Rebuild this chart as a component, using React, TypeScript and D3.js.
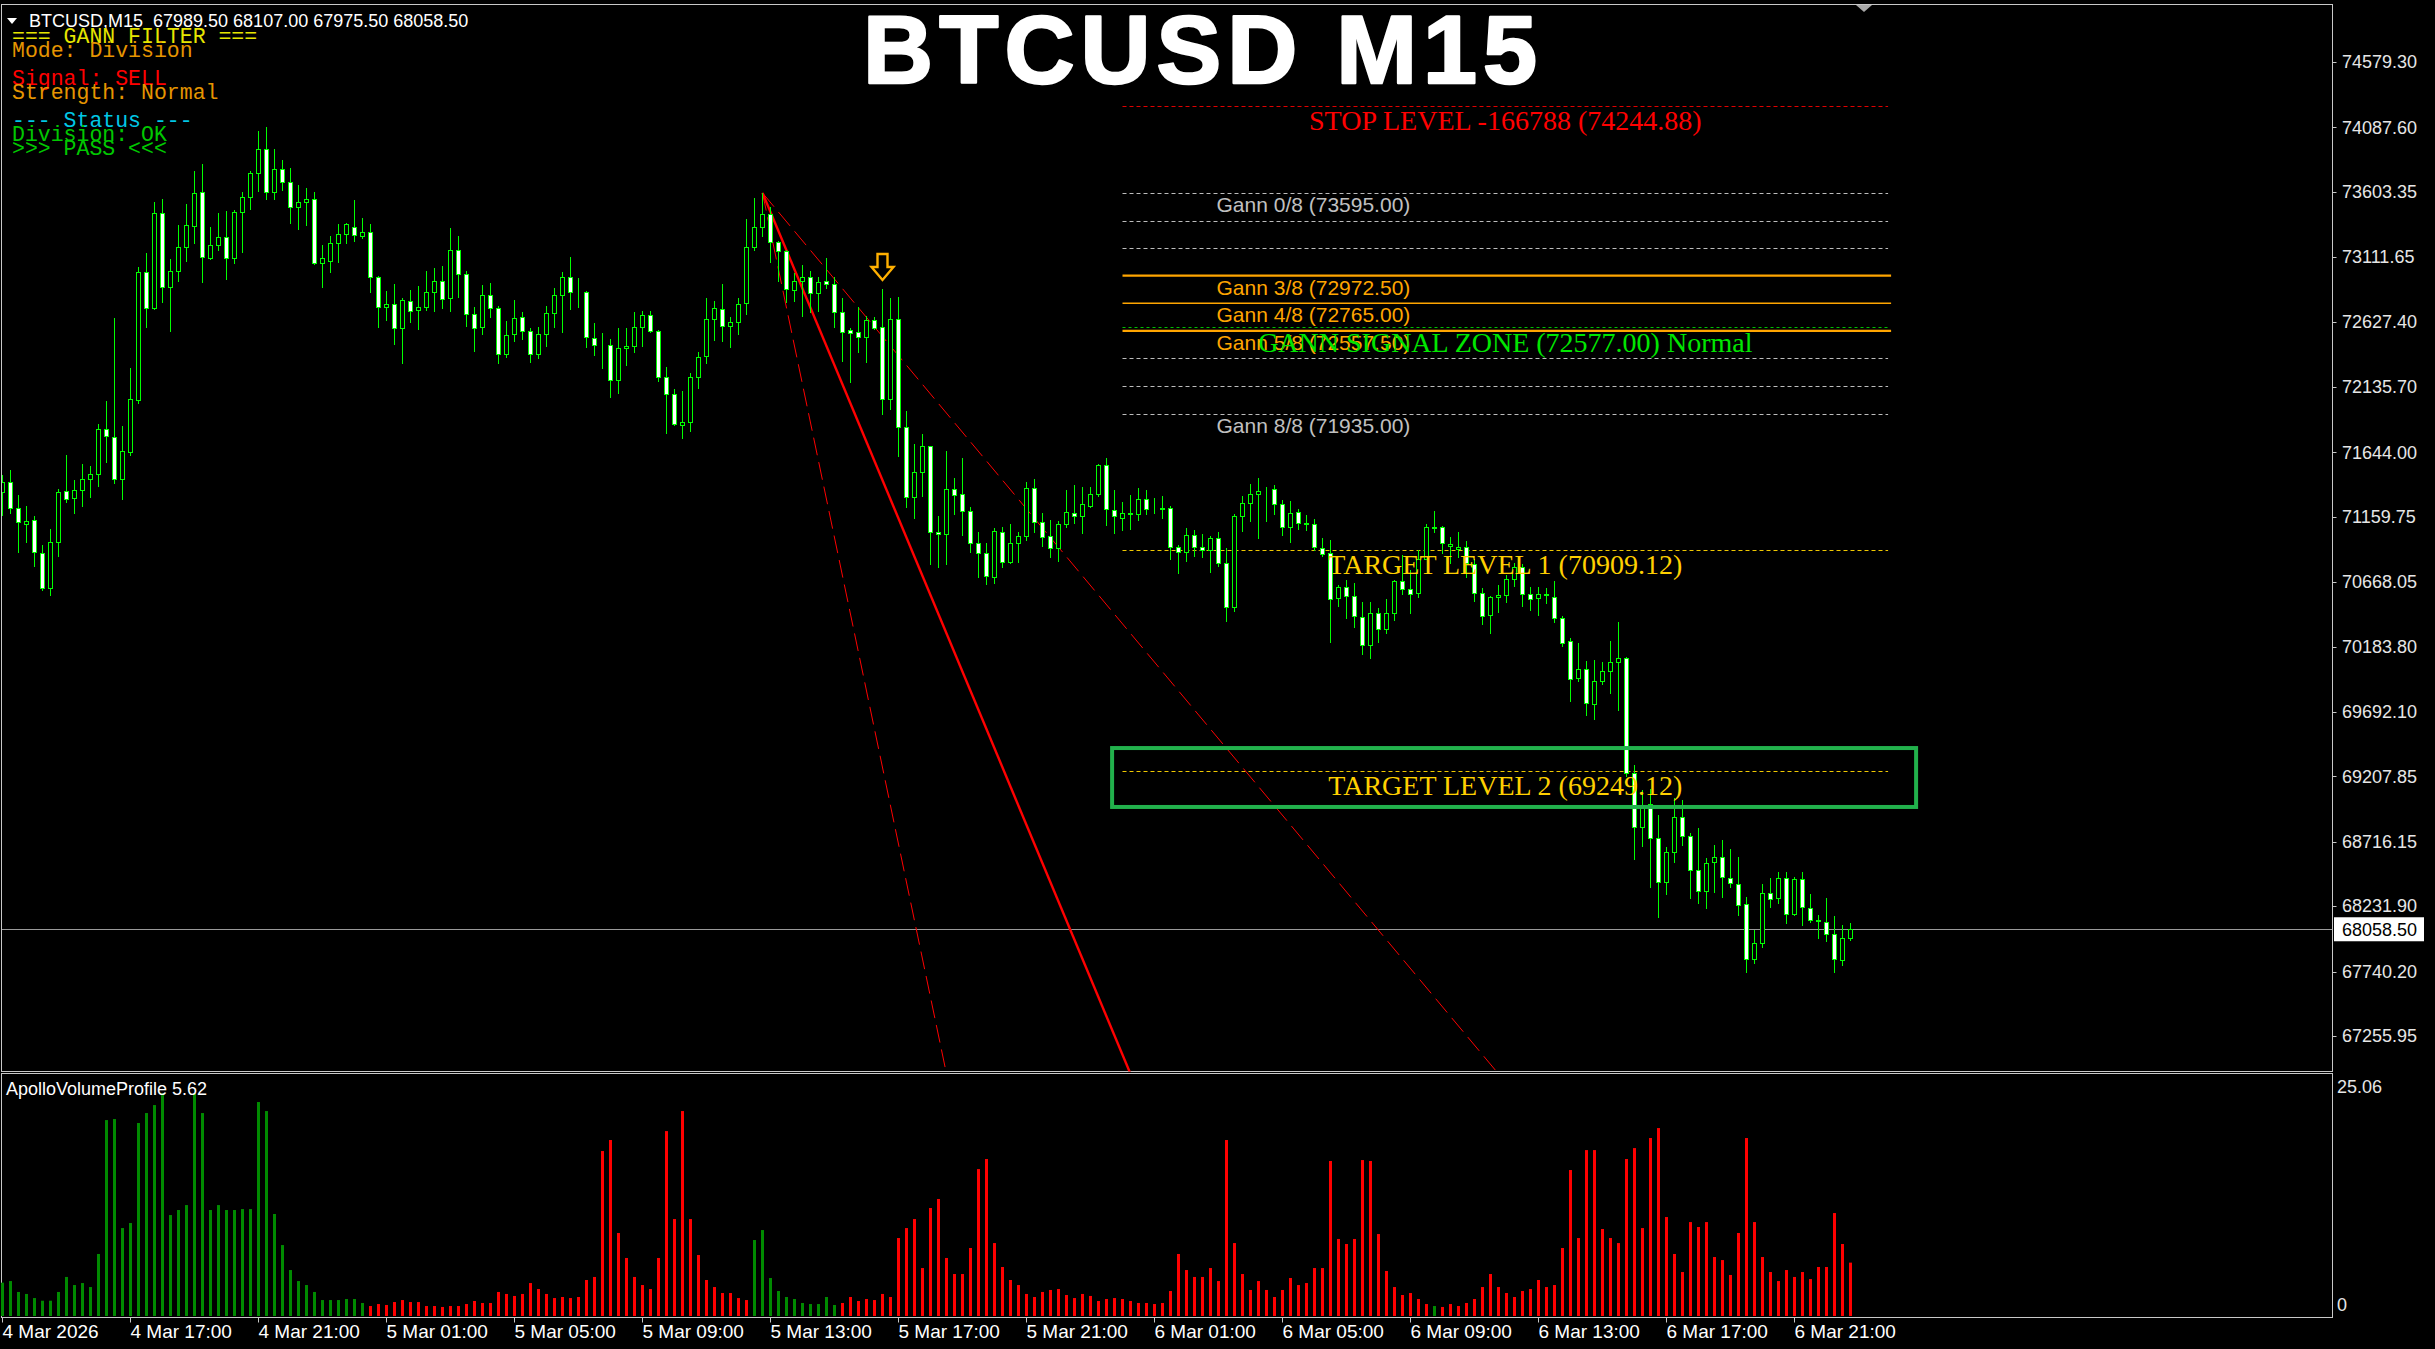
import React from "react";
import * as d3 from "d3";

const W = 2435;
const H = 1349;

// ---- BTCUSD M15 candles (bar 0 = 4 Mar 2026 13:00) ----
const opens = [71349,71424,71228,71103,71135,70885,70627,70968,71354,71298,
71361,71441,71479,71817,71757,71441,71649,72038,73003,72727,
73441,72890,73010,73186,73346,73599,73103,73201,73266,73103,
73449,73562,73742,73922,73599,73772,73674,73486,73529,73551,
73070,73085,73216,73283,73336,73271,73303,72960,72735,72757,
72577,72785,72714,72735,72847,72935,72802,73163,72983,72682,
72584,72825,72727,72384,72532,72659,72559,72384,72532,72695,
72825,72960,72850,72850,72502,72449,72449,72186,72426,72446,
72584,72675,72559,72213,72081,71850,71870,72208,72371,72644,
72720,72594,72627,72765,73191,73341,73436,73223,73158,72865,
72933,72965,72840,72933,72908,72697,72562,72547,72509,72637,
72584,72048,72649,71837,71306,71494,71695,71045,71030,71366,
71328,71203,70960,70885,70704,71043,70817,70965,71015,71374,
71118,71013,70923,71103,71186,71168,71241,71328,71549,71211,
71148,71186,71178,71291,71216,71216,71223,70930,70892,71020,
70930,70910,70998,70810,70479,71166,71261,71328,71351,71366,
71253,71080,71193,71110,71103,70923,70885,70547,70629,70564,
70409,70196,70434,70318,70434,70679,70617,70584,70840,71085,
71080,70938,70920,70930,70805,70589,70419,70554,70569,70690,
70785,70577,70547,70577,70559,70396,70228,69945,70018,69750,
69923,69998,70065,70096,69231,68825,69000,68742,68411,68637,
68905,68760,68504,68349,68567,68599,68441,68396,68246,67832,
67958,68329,68291,68441,68171,68434,68216,68128,68115,68020,
67827,67989.5];

const highs = [71474,71511,71323,71241,71168,70948,71065,71369,71624,71436,
71557,71544,71857,72030,72652,71842,72276,73040,73141,73524,
73547,73095,73354,73509,73760,73812,73339,73444,73459,73466,
73604,73762,74060,74093,73925,73842,73782,73652,73629,73604,
73203,73271,73361,73371,73542,73404,73361,72973,72857,72910,
72807,72865,72897,73008,73033,73048,73328,73271,73010,72740,
72903,72915,72745,72632,72790,72702,72577,72589,72745,72878,
73003,73111,72958,72857,72614,72539,72497,72577,72577,72697,
72710,72707,72562,72286,72121,72106,72238,72401,72807,72785,
72908,72664,72807,73396,73554,73595,73492,73233,73166,72990,
73050,73010,72965,73106,72960,72805,72577,72740,72672,72664,
72873,72805,72810,71958,71705,71780,71695,71166,71654,71449,
71599,71231,71043,70960,71078,71080,71103,71045,71419,71441,
71186,71136,71128,71361,71399,71381,71386,71557,71602,71361,
71273,71323,71374,71361,71299,71316,71241,70948,71073,71060,
71028,71015,71043,70923,71181,71316,71406,71449,71381,71399,
71286,71281,71216,71173,71141,70998,70985,70647,70684,70659,
70522,70516,70471,70542,70684,70872,70760,70910,71106,71203,
71090,71010,71043,70978,70840,70622,70567,70647,70722,70810,
70802,70634,70634,70622,70677,70414,70246,70213,70075,70083,
70068,70226,70366,70108,69293,69106,69110,68918,68679,69048,
69030,68785,68818,68597,68692,68730,68662,68599,68298,68053,
68396,68441,68491,68486,68454,68491,68323,68166,68296,68158,
68090,68107];

const lows = [71173,71191,70897,70973,70792,70609,70572,70867,71268,71191,
71243,71311,71394,71574,71411,71291,71624,72013,72584,72719,
72777,72559,72935,73085,73221,72927,73095,73168,72945,73065,
73153,73471,73612,73549,73547,73617,73366,73326,73354,73060,
72885,73003,73078,73216,73236,73253,72852,72589,72639,72459,
72313,72627,72572,72714,72709,72727,72709,72810,72597,72409,
72537,72664,72314,72359,72484,72494,72326,72351,72444,72589,
72552,72720,72740,72439,72376,72276,72063,72093,72299,72401,
72446,72552,72183,71787,71850,71750,71805,72131,72319,72489,
72484,72434,72534,72685,73166,73274,73078,72935,72772,72785,
72672,72702,72710,72878,72584,72334,72176,72401,72326,72569,
71935,71973,71619,71231,71148,71319,70802,70785,70802,71178,
71023,70897,70709,70652,70659,70780,70815,70817,70985,71048,
70940,70860,70827,71080,71116,71035,71231,71316,71098,71040,
71060,71068,71136,71178,71186,71148,70840,70740,70827,70865,
70855,70747,70790,70376,70451,71053,71131,71003,71131,71178,
71023,70973,71068,71060,70910,70865,70216,70491,70396,70334,
70128,70101,70221,70289,70384,70579,70439,70554,70840,71048,
70890,70815,70855,70705,70529,70354,70288,70446,70522,70639,
70492,70459,70421,70514,70371,70191,69777,69925,69669,69642,
69902,69837,69707,69213,68584,68687,68374,68153,68321,68567,
68692,68291,68258,68216,68341,68303,68379,68166,67740,67807,
67928,68228,68253,68108,68166,68090,68110,67990,67973,67740,
67790,67975.5];

const closes = [71424,71228,71118,71125,70892,70622,70973,71344,71293,71361,
71444,71479,71817,71767,71441,71654,72043,73003,72727,73441,
72885,73010,73186,73351,73592,73110,73201,73266,73108,73449,
73562,73742,73922,73599,73772,73674,73486,73529,73551,73065,
73103,73216,73283,73359,73278,73303,72960,72735,72757,72577,
72790,72704,72735,72852,72935,72797,73163,72985,72684,72577,
72825,72727,72384,72524,72652,72554,72384,72532,72690,72825,
72960,72850,72850,72512,72449,72449,72186,72426,72446,72584,
72675,72559,72213,72081,71857,71870,72208,72364,72644,72727,
72594,72622,72757,73191,73341,73436,73223,73158,72870,72933,
72965,72840,72923,72910,72697,72552,72542,72512,72637,72577,
72043,72644,71832,71306,71494,71695,71045,71030,71366,71323,
71203,70960,70885,70714,71050,70817,70960,71013,71374,71118,
71010,70923,71103,71193,71168,71253,71328,71549,71216,71166,
71186,71178,71291,71216,71216,71223,70930,70892,71020,70930,
70910,70998,70810,70479,71166,71261,71328,71351,71353,71253,
71080,71186,71110,71105,70930,70877,70539,70629,70564,70414,
70196,70434,70316,70434,70680,70617,70577,70840,71085,71073,
70960,70953,70935,70810,70584,70414,70554,70569,70690,70785,
70579,70539,70577,70574,70396,70213,69938,70013,69757,69923,
69998,70065,70096,69231,68825,68968,68742,68411,68637,68905,
68760,68504,68349,68554,68599,68449,68404,68241,67832,67953,
68329,68283,68441,68171,68434,68223,68128,68123,68020,67832,
67990,68058.5];

// ---- ApolloVolumeProfile histogram ----
const volumes = [3.51,3.68,2.53,2.32,1.89,1.61,1.61,2.53,4.11,3.26,
3.47,3.05,6.53,20.63,20.74,9.26,9.79,20.32,21.37,22.21,
23.44,10.63,11.16,11.68,23.44,21.37,11.16,11.68,11.16,11.16,
11.26,11.26,22.53,21.58,10.74,7.47,4.84,3.68,3.26,2.53,
1.68,1.68,1.68,1.79,1.79,1.37,1.05,1.26,1.16,1.47,
1.68,1.47,1.47,1.05,1.05,0.95,1.05,1.05,1.26,1.58,
1.37,1.37,2.53,2.32,2.11,2.32,3.47,2.84,2.32,1.89,
2.00,1.89,2.00,3.79,4.11,17.37,18.53,8.74,6.11,4.11,
3.26,2.84,6.11,19.47,10.21,21.58,10.21,6.42,3.79,3.05,
2.42,2.42,1.89,1.68,8.00,9.05,4.00,2.63,2.00,1.79,
1.37,1.26,1.26,2.00,1.16,1.37,2.00,1.58,1.79,1.68,
2.32,2.00,8.21,9.26,10.21,5.05,11.37,12.32,6.11,4.42,
4.42,7.16,15.47,16.53,7.68,5.16,3.79,3.26,2.32,2.00,
2.53,2.74,2.84,2.21,1.89,2.32,2.11,1.58,1.79,1.89,
1.79,1.58,1.37,1.37,1.26,1.37,2.63,6.53,4.84,4.11,
4.11,5.05,3.68,18.53,7.68,4.42,2.74,3.68,2.74,2.00,
2.74,4.00,3.26,3.47,5.05,5.05,16.32,8.11,7.58,8.11,
16.42,16.32,8.63,4.74,3.05,2.21,2.42,1.79,1.26,1.05,
0.95,1.26,1.05,1.37,1.79,3.05,4.42,3.05,2.42,2.00,
2.63,2.84,3.79,3.05,3.26,7.16,15.37,8.21,17.47,17.47,
9.16,8.21,7.68,16.53,17.68,9.26,18.74,19.79,10.42,6.53,
4.63,9.89,9.37,9.89,6.21,5.89,4.32,8.74,18.74,9.89,
6.21,4.63,3.68,4.84,4.11,4.63,3.89,5.16,5.16,10.84,
7.58,5.62];
// bar index ranges drawn as buying volume (green); the rest is selling (red)
const buyVolumeRanges = [[0, 45], [94, 104], [179, 179]];
const volumeMax = 25.06;

// ---- axes ----
const priceTicks = [74579.30, 74087.60, 73603.35, 73111.65, 72627.40, 72135.70, 71644.00,
  71159.75, 70668.05, 70183.80, 69692.10, 69207.85, 68716.15, 68231.90, 67740.20, 67255.95];
const timeTickBars = [0, 16, 32, 48, 64, 80, 96, 112, 128, 144, 160, 176, 192, 208, 224];
const timeTickLabels = ["4 Mar 2026", "4 Mar 17:00", "4 Mar 21:00", "5 Mar 01:00", "5 Mar 05:00",
  "5 Mar 09:00", "5 Mar 13:00", "5 Mar 17:00", "5 Mar 21:00", "6 Mar 01:00", "6 Mar 05:00",
  "6 Mar 09:00", "6 Mar 13:00", "6 Mar 17:00", "6 Mar 21:00"];

// ---- Gann filter levels ----
const gannPrices = [73595.0, 73387.5, 73180.0, 72972.5, 72765.0, 72557.5, 72350.0, 72142.5, 71935.0];
const gannNames = ["Gann 0/8", "", "", "Gann 3/8", "Gann 4/8", "Gann 5/8", "", "", "Gann 8/8"];
const gannKinds = ["dot", "dot", "dot", "solid", "solid", "solid", "dot", "dot", "dot"];
const stopLevel = 74244.88;
const stopPoints = -166788;
const signalZone = 72577.0;
const signalStrength = "Normal";
const target1 = 70909.12;
const target2 = 69249.12;
const target2Box = [69421, 68978];
const levelBars = [140, 235.7];
const boxBars = [138.7, 239.2];

// Gann fan from the swing high
const fanPivotBar = 95;
const fanPivotPrice = 73595;
const fanRates = [72, 144, 288]; // price per bar
const fanDashed = [true, false, true];
const sellArrowBar = 110;

const infoLines = [
  { text: "=== GANN FILTER ===", color: "#e6e600" },
  { text: "Mode: Division", color: "#e69500" },
  { text: "", color: "" },
  { text: "Signal: SELL", color: "#ff0000" },
  { text: "Strength: Normal", color: "#e69500" },
  { text: "", color: "" },
  { text: "--- Status ---", color: "#00c8e6" },
  { text: "Division: OK", color: "#00c800" },
  { text: ">>> PASS <<<", color: "#00c800" },
];

const fmt = (v: number) => v.toFixed(2);

export default function App() {
  const plotRight = 2332.5;
  const mainTop = 4.5;
  const mainBottom = 1071.5;
  const volTop = 1073.5;
  const volBottom = 1317.5;

  const x = d3.scaleLinear().domain([0, 1]).range([2.5, 10.5]);
  const y = d3.scaleLinear().domain([67255.95, 74579.3]).range([1036, 62]);
  const v = d3.scaleLinear().domain([0, volumeMax]).range([1316, 1078]);

  const last = closes.length - 1;
  const isBuy = (i: number) => buyVolumeRanges.some(([a, b]) => i >= a && i <= b);
  const snap = (n: number) => Math.round(n) + 0.5;

  const lx0 = x(levelBars[0]);
  const lx1 = x(levelBars[1]);
  const lmid = (lx0 + lx1) / 2;

  const serif = "'Liberation Serif', 'DejaVu Serif', serif";
  const sans = "'Liberation Sans', Arial, sans-serif";
  const mono = "'Liberation Mono', 'Courier New', monospace";

  const arrowX = x(sellArrowBar);
  const arrowTip = y(highs[sellArrowBar]) - 9;
  const arrowPath = `M${arrowX - 5},${arrowTip - 26} L${arrowX + 5},${arrowTip - 26} L${arrowX + 5},${arrowTip - 13} L${arrowX + 11},${arrowTip - 13} L${arrowX},${arrowTip} L${arrowX - 11},${arrowTip - 13} L${arrowX - 5},${arrowTip - 13} Z`;

  const fanLine = d3.line<[number, number]>().x((d) => x(d[0])).y((d) => y(d[1]));

  return (
    <>
      <style>{"html,body{margin:0;padding:0;background:#000;overflow:hidden}"}</style>
      <svg width={W} height={H} style={{ display: "block", background: "#000" }}>
        <defs>
          <clipPath id="mainClip">
            <rect x={2} y={mainTop + 0.5} width={plotRight - 2} height={mainBottom - mainTop - 0.5} />
          </clipPath>
        </defs>

        {/* panel frames */}
        <rect x={1.5} y={mainTop} width={plotRight - 1.5} height={mainBottom - mainTop} fill="none" stroke="#c8c8c8" strokeWidth={1} />
        <rect x={1.5} y={volTop} width={plotRight - 1.5} height={volBottom - volTop} fill="none" stroke="#c8c8c8" strokeWidth={1} />

        <g clipPath="url(#mainClip)">
          {/* Gann grid lines */}
          {gannPrices.map((p, i) => {
            const yy = gannKinds[i] === "solid" ? y(p) : snap(y(p));
            const solid = gannKinds[i] === "solid";
            return (
              <line key={"g" + i} x1={lx0} x2={solid ? lx1 + 3 : lx1} y1={yy} y2={yy}
                stroke={solid ? "#ffa500" : "#bcbcbc"}
                strokeWidth={solid ? (i === 4 ? 1.4 : 2.2) : 1}
                strokeDasharray={solid ? undefined : "4 3"} />
            );
          })}
          <line x1={lx0} x2={lx1} y1={snap(y(stopLevel))} y2={snap(y(stopLevel))} stroke="#e00000" strokeWidth={1} strokeDasharray="4 3" />
          <line x1={lx0} x2={lx1} y1={snap(y(signalZone)) - 1} y2={snap(y(signalZone)) - 1} stroke="#00c000" strokeWidth={1} strokeDasharray="3 3" />
          <line x1={lx0} x2={lx1} y1={snap(y(target1))} y2={snap(y(target1))} stroke="#f0c800" strokeWidth={1} strokeDasharray="4 3" />
          <line x1={lx0} x2={lx1} y1={snap(y(target2))} y2={snap(y(target2))} stroke="#f0c800" strokeWidth={1} strokeDasharray="4 3" />

          {/* current price line */}
          <line x1={0} x2={plotRight} y1={snap(y(closes[last]))} y2={snap(y(closes[last]))} stroke="#9a9a9a" strokeWidth={1} />

          {/* Gann fan */}
          {fanRates.map((r, i) => {
            const endBar = fanPivotBar + (fanPivotPrice - 66000) / r;
            const pts: [number, number][] = [[fanPivotBar, fanPivotPrice], [endBar, 66000]];
            return (
              <path key={"f" + i} d={fanLine(pts) || ""} fill="none" stroke="#ff0000"
                strokeWidth={fanDashed[i] ? 1 : 2.4} strokeDasharray={fanDashed[i] ? "18 7" : undefined} />
            );
          })}

          {/* candles */}
          {closes.map((c, i) => {
            const o = opens[i];
            const cx = x(i);
            const top = Math.round(y(Math.max(o, c))) + 0.5;
            const bot = Math.round(y(Math.min(o, c))) + 0.5;
            const bear = c < o;
            return (
              <g key={"c" + i}>
                <line x1={cx} x2={cx} y1={Math.round(y(highs[i]))} y2={Math.round(y(lows[i])) + 1} stroke="#00ff00" strokeWidth={1} />
                <rect x={cx - 2} y={top} width={4} height={Math.max(bot - top, 0)}
                  fill={bear ? "#ffffff" : "#000000"} stroke="#00ff00" strokeWidth={1} />
              </g>
            );
          })}

          {/* target 2 zone */}
          <rect x={x(boxBars[0])} y={y(target2Box[0])} width={x(boxBars[1]) - x(boxBars[0])}
            height={y(target2Box[1]) - y(target2Box[0])} fill="none" stroke="#22b14c" strokeWidth={4} />

          {/* sell arrow */}
          <path d={arrowPath} fill="#000" stroke="#ffb000" strokeWidth={2.4} strokeLinejoin="miter" />

          {/* level labels */}
          {gannPrices.map((p, i) =>
            gannNames[i] ? (
              <text key={"gl" + i} x={lx0 + 94} y={y(p) + 19} fontFamily={sans} fontSize={21}
                fill={gannKinds[i] === "solid" ? "#ffa500" : "#c0c0c0"}>
                {`${gannNames[i]} (${fmt(p)})`}
              </text>
            ) : null
          )}
          <text x={lmid} y={y(stopLevel) + 24} textAnchor="middle" fontFamily={serif} fontSize={28} fill="#ff0000">
            {`STOP LEVEL ${stopPoints} (${fmt(stopLevel)})`}
          </text>
          <text x={lmid} y={y(signalZone) + 24} textAnchor="middle" fontFamily={serif} fontSize={28} fill="#00e600">
            {`GANN SIGNAL ZONE (${fmt(signalZone)}) ${signalStrength}`}
          </text>
          <text x={lmid} y={y(target1) + 24} textAnchor="middle" fontFamily={serif} fontSize={28} fill="#ffd000">
            {`TARGET LEVEL 1 (${fmt(target1)})`}
          </text>
          <text x={lmid} y={y(target2) + 24} textAnchor="middle" fontFamily={serif} fontSize={28} fill="#ffd000">
            {`TARGET LEVEL 2 (${fmt(target2)})`}
          </text>
        </g>

        {/* chart shift marker */}
        <polygon points="1856,5 1872,5 1864,12" fill="#a8a8a8" />

        {/* title */}
        <text x={1203} y={83} textAnchor="middle" fontFamily={sans} fontWeight="bold" fontSize={97}
          letterSpacing={6} fill="#ffffff" stroke="#ffffff" strokeWidth={2.5} strokeLinejoin="round">
          BTCUSD M15
        </text>

        {/* symbol header */}
        <polygon points="7,18 17,18 12,24" fill="#ffffff" />
        <text x={29} y={27} fontFamily={sans} fontSize={18} fill="#ffffff" xmlSpace="preserve">
          {`BTCUSD,M15  ${fmt(opens[last])} ${fmt(highs[last])} ${fmt(lows[last])} ${fmt(closes[last])}`}
        </text>

        {/* info block */}
        {infoLines.map((l, i) =>
          l.text ? (
            <text key={"i" + i} x={12} y={43 + i * 14} fontFamily={mono} fontSize={21.5} fill={l.color} xmlSpace="preserve">
              {l.text}
            </text>
          ) : null
        )}

        {/* volume histogram */}
        {volumes.map((val, i) => (
          <rect key={"v" + i} x={x(i) - 1.5} y={v(val)} width={3} height={v(0) - v(val)}
            fill={isBuy(i) ? "#008a00" : "#ff0000"} />
        ))}
        <text x={6} y={1095} fontFamily={sans} fontSize={18} fill="#ffffff">
          {`ApolloVolumeProfile ${volumes[last].toFixed(2)}`}
        </text>

        {/* price axis */}
        {priceTicks.map((p, i) => (
          <g key={"p" + i}>
            <line x1={plotRight} x2={plotRight + 4} y1={snap(y(p))} y2={snap(y(p))} stroke="#c8c8c8" strokeWidth={1} />
            <text x={2342} y={y(p)} dy="0.35em" fontFamily={sans} fontSize={18} fill="#e6e6e6">{fmt(p)}</text>
          </g>
        ))}
        <rect x={2334} y={y(closes[last]) - 12} width={90} height={24} fill="#ffffff" />
        <text x={2342} y={y(closes[last])} dy="0.35em" fontFamily={sans} fontSize={18} fill="#000000">
          {fmt(closes[last])}
        </text>

        {/* volume axis */}
        <text x={2337} y={v(volumeMax) + 9} dy="0.35em" fontFamily={sans} fontSize={18} fill="#e6e6e6">{fmt(volumeMax)}</text>
        <text x={2337} y={v(0) - 11} dy="0.35em" fontFamily={sans} fontSize={18} fill="#e6e6e6">0</text>

        {/* time axis */}
        {timeTickBars.map((b, i) => (
          <g key={"t" + i}>
            <line x1={snap(x(b)) - 1} x2={snap(x(b)) - 1} y1={volBottom} y2={volBottom + 5} stroke="#c8c8c8" strokeWidth={1} />
            <text x={x(b)} y={1338} fontFamily={sans} fontSize={19} fill="#ffffff">{timeTickLabels[i]}</text>
          </g>
        ))}
      </svg>
    </>
  );
}
